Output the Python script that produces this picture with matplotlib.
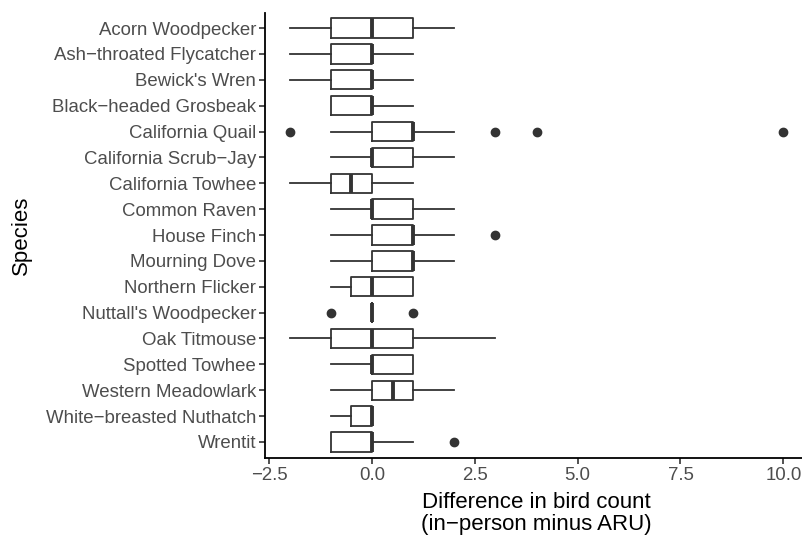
import matplotlib.pyplot as plt

plt.rcParams['font.family'] = ['Liberation Sans', 'DejaVu Sans']

species = ["Acorn Woodpecker", "Ash−throated Flycatcher", "Bewick's Wren",
           "Black−headed Grosbeak", "California Quail", "California Scrub−Jay",
           "California Towhee", "Common Raven", "House Finch", "Mourning Dove",
           "Northern Flicker", "Nuttall's Woodpecker", "Oak Titmouse",
           "Spotted Towhee", "Western Meadowlark", "White−breasted Nuthatch",
           "Wrentit"]
whisker_lo = [-2, -2, -2, -1, -1, -1, -2, -1, -1, -1, -1, 0, -2, -1, -1, -1, -1]
q1 = [-1, -1, -1, -1, 0, 0, -1, 0, 0, 0, -0.5, 0, -1, 0, 0, -0.5, -1]
median = [0, 0, 0, 0, 1, 0, -0.5, 0, 1, 1, 0, 0, 0, 0, 0.5, 0, 0]
q3 = [1, 0, 0, 0, 1, 1, 0, 1, 1, 1, 1, 0, 1, 1, 1, 0, 0]
whisker_hi = [2, 1, 1, 1, 2, 2, 1, 2, 2, 2, 1, 0, 3, 1, 2, 0, 1]
outliers = [[], [], [], [], [-2, 3, 4, 10], [], [], [], [3], [], [], [-1, 1],
            [], [], [], [], [2]]

# статистика для bxp
stats = []
for i in range(len(species)):
    stats.append({"whislo": whisker_lo[i], "q1": q1[i], "med": median[i],
                  "q3": q3[i], "whishi": whisker_hi[i], "fliers": outliers[i],
                  "label": species[i]})

fig = plt.figure(figsize=(8.02, 5.35), dpi=100)
ax = fig.add_axes([265 / 802, 77.5 / 535, 543 / 802, 445 / 535])

pos = list(range(len(species), 0, -1))
dark = "#333333"
ax.bxp(stats, positions=pos, vert=False, widths=0.75, showcaps=False,
       boxprops=dict(color=dark, linewidth=1.3),
       whiskerprops=dict(color=dark, linewidth=1.3),
       medianprops=dict(color=dark, linewidth=2.8, solid_capstyle="butt"),
       flierprops=dict(marker="o", markerfacecolor=dark, markeredgecolor=dark,
                       markersize=6))

ax.set_xlim(-2.6, 10.6)
ax.set_ylim(0.4, len(species) + 0.6)
ax.set_xticks([-2.5, 0, 2.5, 5, 7.5, 10])
ax.set_xticklabels(["−2.5", "0.0", "2.5", "5.0", "7.5", "10.0"])
ax.set_yticks(pos)
ax.set_yticklabels(species)

for s in ["top", "right"]:
    ax.spines[s].set_visible(False)
for s in ["left", "bottom"]:
    ax.spines[s].set_linewidth(1.3)
    ax.spines[s].set_color("black")
ax.tick_params(axis="both", colors="#333333", labelcolor="#4D4D4D",
               labelsize=13.4, length=4, width=1.2, pad=2.5)

ax.set_xlabel("Difference in bird count\n(in−person minus ARU)", fontsize=16,
              color="black", linespacing=1.05)
ax.xaxis.set_label_coords(0.5, -0.078)
ax.xaxis.label.set_va("top")
ax.set_ylabel("Species", fontsize=16, color="black")
ax.yaxis.set_label_coords(-233 / 543, 0.5)

fig.savefig("out.png", dpi=100)
